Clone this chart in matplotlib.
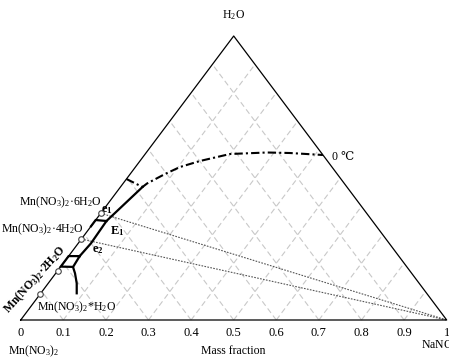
import numpy as np
import matplotlib
matplotlib.use('Agg')
import matplotlib.pyplot as plt

plt.rcParams['font.family'] = ['Liberation Serif', 'DejaVu Serif']
plt.rcParams['mathtext.default'] = 'regular'

# compositions are (NaNO3 mass fraction, H2O mass fraction)
tick_vals = [0, 0.1, 0.2, 0.3, 0.4, 0.5, 0.6, 0.7, 0.8, 0.9, 1]
tick_labels = ['0', '0.1', '0.2', '0.3', '0.4', '0.5', '0.6', '0.7', '0.8', '0.9', '1']

# hydrate points on the Mn(NO3)2 - H2O side
hydrate_w = [0.376, 0.285, 0.174, 0.09]

# tie lines hydrate -> NaNO3
tie_w = [0.376, 0.285]

# solubility curve (bold)
main_b = [0.0518, 0.0271, 0.030, 0.026]
main_w = [0.4683, 0.3486, 0.27, 0.225]
upper_box_b = [0.0, 0.0, 0.0271]
upper_box_w = [0.33, 0.352, 0.3486]
lower_box_b = [0.026, 0.0, 0.0, 0.0295, 0.026]
lower_box_w = [0.225, 0.225, 0.188, 0.187, 0.225]
tail_b = [0.0295, 0.0453, 0.0669, 0.0845]
tail_w = [0.1866, 0.1644, 0.1292, 0.094]

# 0 degC isotherm
iso_b = [0.0, 0.0518, 0.0562, 0.0817, 0.1046, 0.1409, 0.1991, 0.2833, 0.3381, 0.419]
iso_w = [0.4965, 0.4683, 0.4806, 0.514, 0.5387, 0.5599, 0.5845, 0.5898, 0.588, 0.581]


def tern(b, w):
    b = np.asarray(b, dtype=float)
    w = np.asarray(w, dtype=float)
    return b + w / 2, w


def px(x, y):
    # pixel position in the 449x362 picture -> data coords
    return (x - 20.7) / 426, (320 - y) / 284


fig = plt.figure(figsize=(4.49, 3.62), dpi=100)
ax = fig.add_axes([0, 0, 1, 1])
ax.set_xlim(-20.7 / 426, (449 - 20.7) / 426)
ax.set_ylim(-42 / 284, 320 / 284)
ax.axis('off')

# grid
for k in tick_vals[1:-1]:
    x, y = tern([k, k], [0, 1 - k])
    ax.plot(x, y, color='#c8c8c8', lw=0.8, ls=(0, (5, 3)), zorder=1)
    x, y = tern([1 - k, 0], [0, 1 - k])
    ax.plot(x, y, color='#c8c8c8', lw=0.8, ls=(0, (5, 3)), zorder=1)

# triangle
x, y = tern([0, 1, 0, 0], [0, 0, 1, 0])
ax.plot(x, y, color='black', lw=0.9, zorder=3)

# tie lines
for w in tie_w:
    x, y = tern([0, 1], [w, 0])
    ax.plot(x, y, color='#555555', lw=0.8, ls=(0, (1.5, 1.2)), zorder=2)

# isotherm
x, y = tern(iso_b, iso_w)
ax.plot(x, y, color='black', lw=1.5, ls=(0, (4, 1.5, 1, 1.5)), zorder=4)

# solubility curves
for bb, ww in [(main_b, main_w), (upper_box_b, upper_box_w),
               (lower_box_b, lower_box_w), (tail_b, tail_w)]:
    x, y = tern(bb, ww)
    ax.plot(x, y, color='black', lw=1.6, solid_joinstyle='miter', zorder=5)

# hydrate markers
x, y = tern(np.zeros(len(hydrate_w)), hydrate_w)
ax.plot(x, y, 'o', ms=4, mfc='white', mec='#444444', mew=0.8, zorder=6)

# tick labels
for t, lab in zip(tick_vals, tick_labels):
    ax.text(t, px(0, 333)[1], lab, ha='center', va='center', fontsize=9)

ax.text(*px(233, 351), 'Mass fraction', ha='center', va='center', fontsize=8.5)
ax.text(*px(8, 351), 'Mn(NO$_3$)$_2$', ha='left', va='center', fontsize=8.5)
ax.text(*px(421, 345), 'NaNO$_3$', ha='left', va='center', fontsize=8.5)
ax.text(*px(234, 15), 'H$_2$O', ha='center', va='center', fontsize=8.5)
ax.text(*px(332, 157), '0 \u2103', ha='left', va='center', fontsize=8.5)

ax.text(*px(102, 202), 'Mn(NO$_3$)$_2$·6H$_2$O', ha='right', va='center', fontsize=8.5)
ax.text(*px(84, 229), 'Mn(NO$_3$)$_2$·4H$_2$O', ha='right', va='center', fontsize=8.5)
ax.text(*px(37, 307), 'Mn(NO$_3$)$_2$*H$_2$O', ha='left', va='center', fontsize=8.5)
ax.text(*px(35, 280), 'Mn(NO$_3$)$_2$·2H$_2$O', ha='center', va='center',
        fontsize=8.5, fontweight='bold', rotation=48)

ax.text(*px(107, 210), 'e$_1$', ha='center', va='center', fontsize=9, fontweight='bold')
ax.text(*px(117, 231), 'E$_1$', ha='center', va='center', fontsize=9, fontweight='bold')
ax.text(*px(98, 250), 'e$_2$', ha='center', va='center', fontsize=9, fontweight='bold')

fig.savefig('out.png', dpi=100)
